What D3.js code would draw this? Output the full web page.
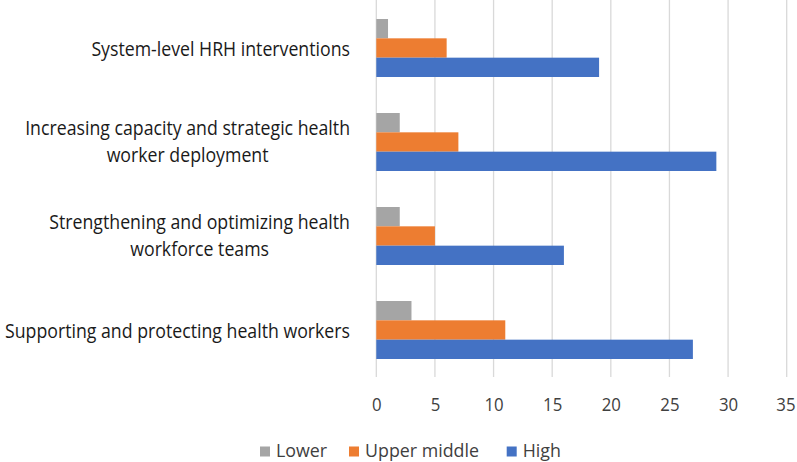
<!DOCTYPE html>
<html><head><meta charset="utf-8">
<script src="https://cdn.jsdelivr.net/npm/d3@7"></script>
<style>body{margin:0;background:#fff}svg{display:block}</style>
</head><body>
<svg id="c" width="797" height="462"></svg>
<script>
const categories = [
  ["System-level HRH interventions"],
  ["Increasing capacity and strategic health", "worker deployment"],
  ["Strengthening and optimizing health", "workforce teams"],
  ["Supporting and protecting health workers"]
];
const seriesNames = ["Lower", "Upper middle", "High"];
const lowerVals = [1, 2, 2, 3];
const upperMiddleVals = [6, 7, 5, 11];
const highVals = [19, 29, 16, 27];
const xTicks = [0, 5, 10, 15, 20, 25, 30, 35];
const colors = ["#A5A5A5", "#ED7D31", "#4472C4"];

const series = [lowerVals, upperMiddleVals, highVals];
const svg = d3.select("#c");
const font = "'Open Sans', Lato, sans-serif";
const labelFs = 20, tickFs = 18.5, legendFs = 17.5;

function natW(str, fs) {
  const t = svg.append("text").attr("font-family", font).attr("font-size", fs).text(str);
  const w = t.node().getComputedTextLength();
  t.remove();
  return w;
}
// horizontal condense factors, to mimic the reference's narrow face
const kLabel = 345 / natW("Supporting and protecting health workers", labelFs);
const kTick = 19.2 / natW("10", tickFs);
const kLegend = 114 / natW("Upper middle", legendFs);
function condense(sel, k) {
  sel.each(function(){
    const w = this.getComputedTextLength();
    d3.select(this).attr("textLength", w * k).attr("lengthAdjust", "spacingAndGlyphs");
  });
}

const x = d3.scaleLinear().domain([0, 35]).range([376.3, 786.7]);
const keys = categories.map((c, i) => i);
const y = d3.scaleBand().domain(keys).range([1, 377]).paddingInner(0.383).paddingOuter(0.1915);
const ys = d3.scaleBand().domain(seriesNames).range([0, y.bandwidth()]);

// gridlines
svg.append("g").selectAll("line").data(xTicks).join("line")
  .attr("x1", d => x(d)).attr("x2", d => x(d))
  .attr("y1", 0).attr("y2", 377)
  .attr("stroke", "#D9D9D9").attr("stroke-width", 1.3);

// bars
seriesNames.forEach((s, si) => {
  svg.append("g").selectAll("rect").data(series[si]).join("rect")
    .attr("x", x(0))
    .attr("y", (d, i) => y(i) + ys(s))
    .attr("width", d => x(d) - x(0))
    .attr("height", ys.bandwidth())
    .attr("fill", colors[si]);
});

// x axis tick labels
const xAxis = d3.axisBottom(x).tickValues(xTicks).tickSize(0).tickPadding(0);
const ax = svg.append("g").attr("transform", "translate(0,410.7)").call(xAxis);
ax.select(".domain").remove();
ax.selectAll("text").attr("font-family", font).attr("font-size", tickFs).attr("fill", "#404040").attr("dy", 0).attr("y", 0);
ax.selectAll(".tick").filter(d => d === 35).attr("transform", `translate(${x(35) - 0.8},0)`);
condense(ax.selectAll("text"), kTick);

// category labels
const lineH = 27.3;
categories.forEach((lines, i) => {
  const t = svg.append("text").attr("font-family", font).attr("font-size", labelFs).attr("fill", "#1a1a1a").attr("text-anchor", "middle");
  const cy = y(i) + y.bandwidth() / 2;
  const n = lines.length;
  lines.forEach((l, li) => {
    t.append("tspan").attr("x", 0).attr("y", cy + (li - (n - 1) / 2) * lineH + (n > 1 ? 6.5 : 7.5)).text(l);
  });
  let w = 0;
  t.selectAll("tspan").each(function(){ w = Math.max(w, this.getComputedTextLength() * kLabel); });
  condense(t.selectAll("tspan"), kLabel);
  t.selectAll("tspan").attr("x", 350 - w / 2);
});

// legend
const legendX = [260, 349, 506.7];
seriesNames.forEach((s, si) => {
  svg.append("rect").attr("x", legendX[si]).attr("y", 446.5).attr("width", 10).attr("height", 10).attr("fill", colors[si]);
  const t = svg.append("text").attr("x", legendX[si] + 16).attr("y", 456.7)
    .attr("font-family", font).attr("font-size", legendFs).attr("fill", "#404040").text(s);
  condense(t, kLegend);
});
</script>
</body></html>
